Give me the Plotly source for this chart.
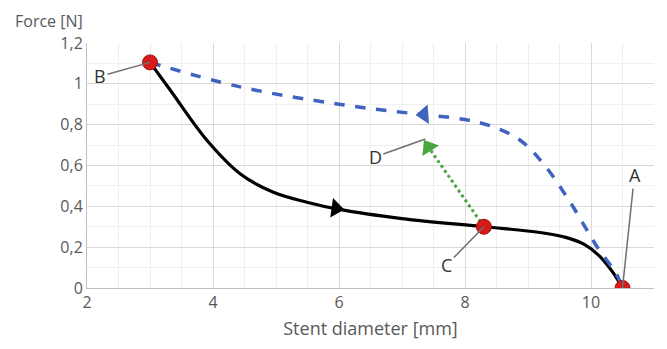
import plotly.graph_objects as go

# Loading curve (black), A -> B
load_x = [10.5, 10.35, 10.14, 9.9, 9.6, 9.19, 8.3, 7.0, 6.0, 5.49, 4.95, 4.43, 3.9, 3.32, 3.0]
load_y = [0.0, 0.075, 0.155, 0.212, 0.248, 0.272, 0.30, 0.34, 0.385, 0.42, 0.47, 0.56, 0.725, 0.97, 1.105]
# Unloading curve (blue dashed), B -> A
unl_x = [3.0, 4.43, 6.0, 7.3, 8.0, 8.44, 8.87, 9.24, 9.67, 10.1, 10.4, 10.5]
unl_y = [1.105, 0.985, 0.90, 0.85, 0.825, 0.79, 0.725, 0.61, 0.42, 0.20, 0.07, 0.0]
# Green dotted path C -> D
cd_x = [8.3, 7.42]
cd_y = [0.30, 0.69]
# Key points
pt_labels = ["A", "B", "C"]
pt_x = [10.5, 3.0, 8.3]
pt_y = [0.0, 1.105, 0.30]
d_label = "D"
# Axis ticks
y_ticks = [0, 0.2, 0.4, 0.6, 0.8, 1.0, 1.2]
y_ticktext = ["0", "0,2", "0,4", "0,6", "0,8", "1", "1,2"]
x_ticks = [2, 4, 6, 8, 10]

FONT = "Open Sans"
GREY = "#595959"

fig = go.Figure()
fig.add_trace(go.Scatter(x=load_x, y=load_y, mode="lines", line=dict(color="black", width=3.2, shape="spline", smoothing=1.0), hoverinfo="skip"))
fig.add_trace(go.Scatter(x=unl_x, y=unl_y, mode="lines", line=dict(color="#4063c0", width=3.5, dash="dash", shape="spline", smoothing=1.0), hoverinfo="skip"))
fig.add_trace(go.Scatter(x=cd_x, y=cd_y, mode="lines", line=dict(color="#4aa540", width=3, dash="dot"), hoverinfo="skip"))
# arrowheads
fig.add_trace(go.Scatter(x=[5.95], y=[0.39], mode="markers", marker=dict(symbol="triangle-right", size=17, color="black", angle=8), hoverinfo="skip"))
fig.add_trace(go.Scatter(x=[7.35], y=[0.85], mode="markers", marker=dict(symbol="triangle-left", size=17, color="#4063c0", angle=-4), hoverinfo="skip"))
fig.add_trace(go.Scatter(x=[cd_x[-1]], y=[cd_y[-1]], mode="markers", marker=dict(symbol="triangle-up", size=17, color="#4aa540", angle=-32), hoverinfo="skip"))
# key points
fig.add_trace(go.Scatter(x=pt_x, y=pt_y, mode="markers", marker=dict(size=15, color="#d71a1a", line=dict(color="#a01010", width=1)), hoverinfo="skip"))

# labels with leader lines
offsets = {"A": (12, -113), "B": (-50, 14), "C": (-37, 38)}
for lab, x, y in zip(pt_labels, pt_x, pt_y):
    ax, ay = offsets[lab]
    fig.add_annotation(x=x, y=y, text=lab, showarrow=True, arrowhead=0, arrowwidth=1.5, arrowcolor="#707070",
                       ax=ax, ay=ay, font=dict(family=FONT, size=18, color="#333333"), standoff=0)
fig.add_annotation(x=cd_x[-1] - 0.05, y=cd_y[-1] + 0.04, text=d_label, showarrow=True, arrowhead=0, arrowwidth=1.5,
                   arrowcolor="#707070", ax=-50, ay=18, font=dict(family=FONT, size=18, color="#333333"))

fig.add_annotation(x=0, y=1, xref="paper", yref="paper", xanchor="left", yanchor="bottom", text="Force [N]",
                   showarrow=False, font=dict(family=FONT, size=16, color=GREY), xshift=-74, yshift=9)

fig.update_layout(
    width=667, height=349, showlegend=False,
    margin=dict(l=87, r=13, t=43, b=61),
    plot_bgcolor="white", paper_bgcolor="white",
    font=dict(family=FONT, size=15, color=GREY),
)
fig.update_xaxes(range=[2, 11], tickvals=x_ticks, showgrid=True, gridcolor="#d9d9d9", gridwidth=1,
                 minor=dict(dtick=0.5, showgrid=True, gridcolor="#efefef"),
                 showline=True, linecolor="#bfbfbf", zeroline=False, ticks="",
                 title=dict(text="Stent diameter [mm]", font=dict(family=FONT, size=18, color=GREY), standoff=10),
                 tickfont=dict(family=FONT, size=16, color=GREY))
fig.update_yaxes(range=[0, 1.2], tickvals=y_ticks, ticktext=y_ticktext, showgrid=True, gridcolor="#d9d9d9",
                 minor=dict(dtick=0.1, showgrid=True, gridcolor="#efefef"),
                 showline=True, linecolor="#bfbfbf", zeroline=False, ticks="",
                 tickfont=dict(family=FONT, size=16, color=GREY))

fig.write_html("out.html")
